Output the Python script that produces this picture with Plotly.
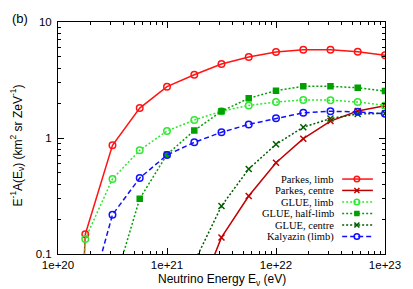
import plotly.graph_objects as go

energy = [1.0e20, 1.78e20, 3.16e20, 5.62e20, 1.0e21, 1.78e21, 3.16e21,
          5.62e21, 1.0e22, 1.78e22, 3.16e22, 5.62e22, 1.0e23]

parkes_limb = [1e-6, 0.148, 0.865, 1.81, 2.77, 3.51, 4.34, 5.0, 5.51, 5.77, 5.77, 5.55, 5.16]
parkes_centre = [None, None, None, None, None, 0.036, 0.139, 0.316, 0.612, 0.986, 1.40, 1.71, 1.90]
glue_limb = [1e-6, 0.135, 0.444, 0.784, 1.15, 1.43, 1.70, 1.91, 2.04, 2.13, 2.12, 2.04, 1.91]
glue_half = [None, None, 0.049, 0.30, 0.72, 1.16, 1.70, 2.20, 2.56, 2.79, 2.79, 2.71, 2.54]
glue_centre = [None, None, None, None, None, 0.085, 0.259, 0.541, 0.883, 1.24, 1.47, 1.61, 1.63]
kalyazin = [None, 0.031, 0.218, 0.452, 0.713, 0.918, 1.12, 1.31, 1.48, 1.65, 1.70, 1.68, 1.62]

labels = ["Parkes, limb", "Parkes, centre", "GLUE, limb", "GLUE, half-limb",
          "GLUE, centre", "Kalyazin (limb)"]
x_tickvals = [1e20, 1e21, 1e22, 1e23]
x_ticktext = ["1e+20", "1e+21", "1e+22", "1e+23"]
y_tickvals = [0.1, 1, 10]
y_ticktext = ["0.1", "1", "10"]

series = [parkes_limb, parkes_centre, glue_limb, glue_half, glue_centre, kalyazin]
styles = [
    dict(color="#ff1414", dash="solid", symbol="circle-open", msize=6.5),
    dict(color="#c00000", dash="solid", symbol="x-thin-open", msize=6),
    dict(color="#30e830", dash="2px,2px", symbol="circle-open", msize=6.5),
    dict(color="#00a000", dash="2px,2px", symbol="square", msize=5),
    dict(color="#005c00", dash="2px,2px", symbol="x-thin-open", msize=6),
    dict(color="#1010ff", dash="5px,3px", symbol="circle-open", msize=6.5),
]

fig = go.Figure()
for ys, st, lab in zip(series, styles, labels):
    fig.add_trace(go.Scatter(
        x=energy, y=ys, mode="lines+markers", name=lab, showlegend=False,
        line=dict(color=st["color"], width=1.5, dash=st["dash"]),
        marker=dict(symbol=st["symbol"], size=st["msize"], color=st["color"],
                    line=dict(color=st["color"], width=1.5)),
        connectgaps=False,
    ))

# manual legend (text right-aligned, sample to the right)
leg_rows = [0.323, 0.274, 0.224, 0.175, 0.125, 0.075]
for lab, st, yr in zip(labels, styles, leg_rows):
    fig.add_trace(go.Scatter(
        x=[0.869, 0.963], y=[yr, yr], xaxis="x2", yaxis="y2", mode="lines",
        showlegend=False, hoverinfo="skip",
        line=dict(color=st["color"], width=1.5, dash=st["dash"])))
    fig.add_trace(go.Scatter(
        x=[0.914], y=[yr], xaxis="x2", yaxis="y2", mode="markers",
        showlegend=False, hoverinfo="skip",
        marker=dict(symbol=st["symbol"], size=st["msize"] - 1, color=st["color"],
                    line=dict(color=st["color"], width=1.5))))
    fig.add_annotation(x=0.849, y=yr, xref="paper", yref="paper", text=lab,
                       showarrow=False, xanchor="right", yanchor="middle",
                       font=dict(family="Liberation Serif", size=10.5, color="black"))

axis_common = dict(showline=True, linecolor="black", linewidth=1, mirror="ticks",
                   ticks="inside", ticklen=6, tickcolor="black", showgrid=False,
                   zeroline=False, tickfont=dict(family="Liberation Sans", size=11.5, color="black"))

fig.update_layout(
    width=413, height=289,
    margin=dict(l=58, r=20, t=22, b=35),
    paper_bgcolor="white", plot_bgcolor="white",
    font=dict(family="Liberation Sans", color="black"),
    xaxis=dict(type="log", range=[20, 23], tickvals=x_tickvals, ticktext=x_ticktext,
               minor=dict(ticks="inside", ticklen=3, tickcolor="black", dtick="D1"),
               ticklabeloverflow="allow",
               **axis_common),
    yaxis=dict(type="log", range=[-1, 1], tickvals=y_tickvals, ticktext=y_ticktext,
               minor=dict(ticks="inside", ticklen=3, tickcolor="black", dtick="D1"),
               ticklabelstandoff=3,
               **axis_common),
    xaxis2=dict(overlaying="x", range=[0, 1], visible=False),
    yaxis2=dict(overlaying="y", range=[0, 1], visible=False),
)

fig.add_annotation(x=0.5, y=-0.114, xref="paper", yref="paper",
                   text="Neutrino Energy E<sub>ν</sub> (eV)", showarrow=False,
                   xanchor="center", yanchor="middle",
                   font=dict(family="Liberation Sans", size=12, color="black"))
fig.add_annotation(x=-0.124, y=0.47, xref="paper", yref="paper", textangle=-90,
                   text="E<sup>-1</sup>A(E<sub>ν</sub>) (km<sup>2</sup> sr ZeV<sup>-1</sup>)",
                   showarrow=False, xanchor="center", yanchor="middle",
                   font=dict(family="Liberation Sans", size=12, color="black"))
fig.add_annotation(x=-0.116, y=1.017, xref="paper", yref="paper", text="(b)",
                   showarrow=False, xanchor="center", yanchor="middle",
                   font=dict(family="Liberation Sans", size=13, color="black"))

# remove the default page margin so the 413x289 figure fills the window exactly
fig.write_html("out.html", config={"displayModeBar": False},
               post_script="document.body.style.margin='0';document.body.style.overflow='hidden';")
